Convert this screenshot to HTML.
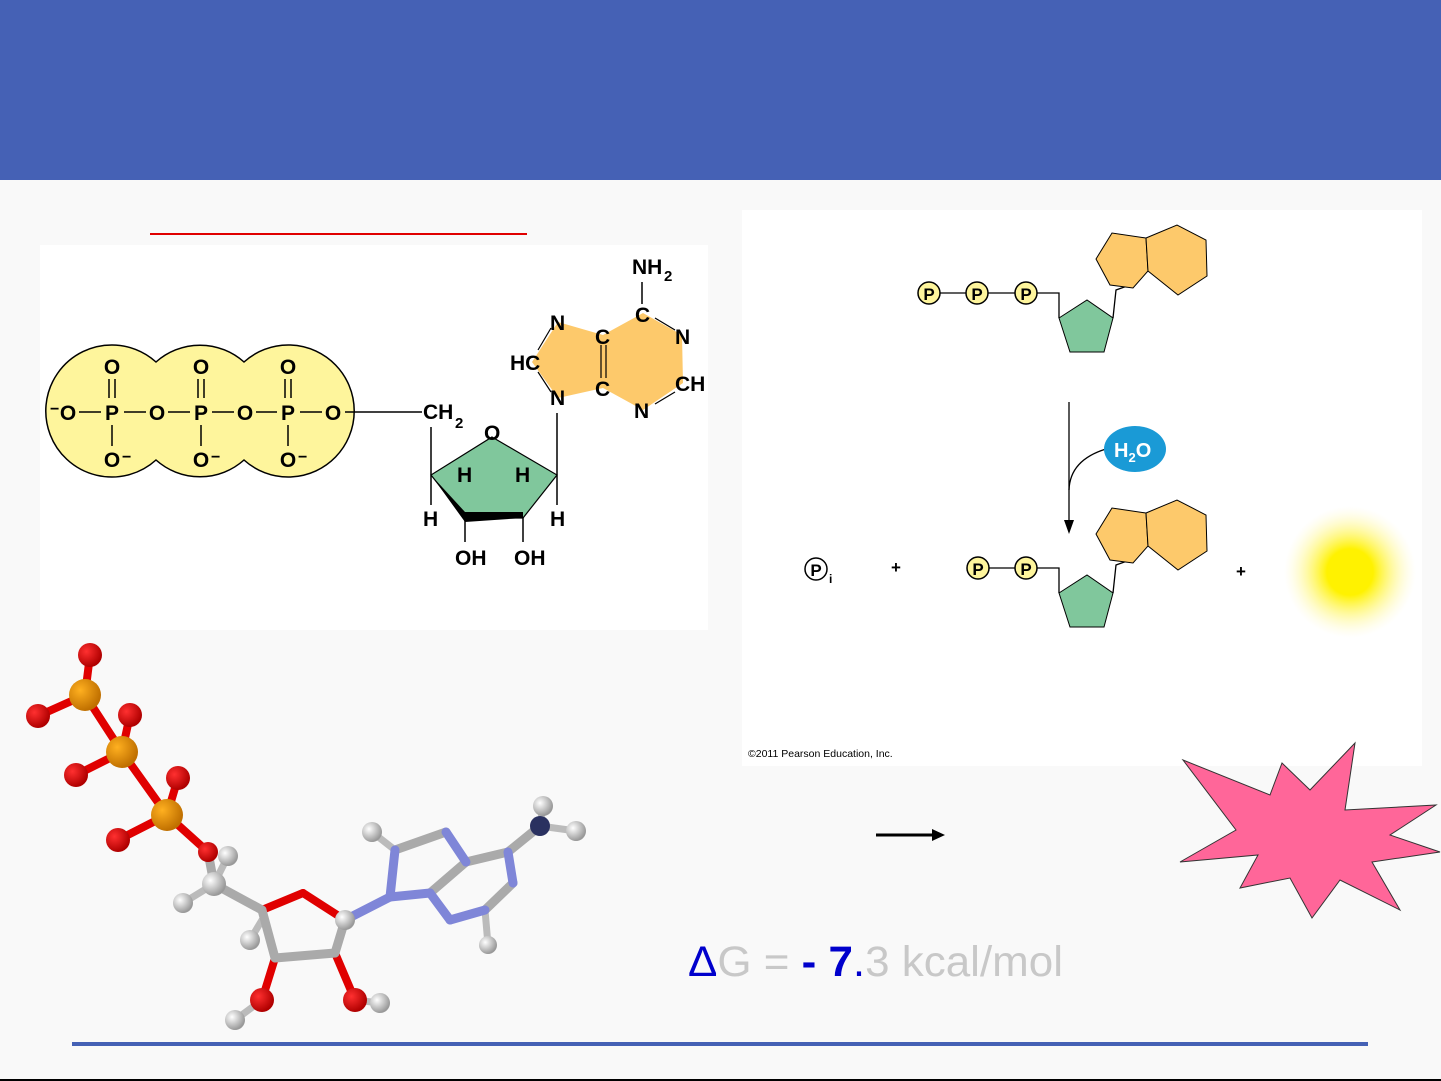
<!DOCTYPE html><html><head><meta charset="utf-8"><style>
html,body{margin:0;padding:0;width:1441px;height:1081px;overflow:hidden;background:#f9f9f9}
svg{display:block}
text{font-family:"Liberation Sans",Arial,sans-serif}
</style></head><body>
<svg width="1441" height="1081" viewBox="0 0 1441 1081" xmlns="http://www.w3.org/2000/svg">
<defs>
<radialGradient id="sun" cx="50%" cy="50%" r="50%"><stop offset="0" stop-color="#fff200"/><stop offset="0.35" stop-color="#fff200"/><stop offset="1" stop-color="#fff8c0" stop-opacity="0"/></radialGradient>
<radialGradient id="gr" cx="35%" cy="35%" r="65%"><stop offset="0" stop-color="#fff"/><stop offset="1" stop-color="#999"/></radialGradient>
<radialGradient id="rd" cx="35%" cy="35%" r="65%"><stop offset="0" stop-color="#ff3030"/><stop offset="1" stop-color="#b00000"/></radialGradient>
<radialGradient id="or" cx="35%" cy="35%" r="65%"><stop offset="0" stop-color="#ffb020"/><stop offset="1" stop-color="#c07000"/></radialGradient>
</defs>
<rect x="0" y="0" width="1441" height="180" fill="#4561b5"/>
<line x1="150" y1="234" x2="527" y2="234" stroke="#e00000" stroke-width="2"/>
<rect x="40" y="245" width="668" height="385" fill="#fff"/>
<rect x="742" y="210" width="680" height="556" fill="#fff"/>
<g fill="#fef59c" stroke="#000" stroke-width="1.5">
<path d="M112,345 A66,66 0 0 1 156,362 A66,66 0 0 1 244,362 A66,66 0 1 1 244,460 A66,66 0 0 1 156,460 A66,66 0 1 1 112,345 Z"/>
</g>
<g font-size="21" font-weight="bold" text-anchor="middle">
<text x="112" y="374">O</text><text x="201" y="374">O</text><text x="288" y="374">O</text>
<text x="68" y="420">O</text><text x="112" y="420">P</text><text x="157" y="420">O</text><text x="201" y="420">P</text><text x="245" y="420">O</text><text x="288" y="420">P</text><text x="333" y="420">O</text>
<text x="112" y="467">O</text><text x="201" y="467">O</text><text x="288" y="467">O</text>
</g>
<g font-size="16" font-weight="bold"><text x="50" y="414">−</text><text x="122" y="462">−</text><text x="211" y="462">−</text><text x="298" y="462">−</text></g>
<g stroke="#000" stroke-width="1.5">
<line x1="109" y1="379" x2="109" y2="398"/><line x1="115" y1="379" x2="115" y2="398"/>
<line x1="198" y1="379" x2="198" y2="398"/><line x1="204" y1="379" x2="204" y2="398"/>
<line x1="285" y1="379" x2="285" y2="398"/><line x1="291" y1="379" x2="291" y2="398"/>
<line x1="112" y1="425" x2="112" y2="446"/><line x1="201" y1="425" x2="201" y2="446"/><line x1="288" y1="425" x2="288" y2="446"/>
<line x1="79" y1="412" x2="101" y2="412"/><line x1="124" y1="412" x2="146" y2="412"/><line x1="168" y1="412" x2="190" y2="412"/><line x1="212" y1="412" x2="234" y2="412"/><line x1="256" y1="412" x2="277" y2="412"/><line x1="300" y1="412" x2="322" y2="412"/>
<line x1="345" y1="412" x2="422" y2="412"/>
<line x1="431" y1="427" x2="431" y2="505"/>
<line x1="557" y1="413" x2="557" y2="505"/>
<line x1="465" y1="518" x2="465" y2="542"/><line x1="523" y1="518" x2="523" y2="542"/>
<line x1="465" y1="488" x2="465" y2="518"/><line x1="523" y1="488" x2="523" y2="518"/>
<line x1="642" y1="282" x2="642" y2="304"/>
</g>
<polygon points="492,437 557,475 523,518 465,518 431,475" fill="#80c79c" stroke="#000" stroke-width="1.2"/>
<polygon points="431,475 465,512 523,512 523,518 465,522" fill="#000"/>
<polygon points="558,322 603,335 643,313 682,335 683,383 643,410 603,388 558,398 532,362" fill="#fdc96b"/>
<g stroke="#000" stroke-width="1.2" fill="none">
<line x1="601" y1="345" x2="601" y2="378"/><line x1="606" y1="345" x2="606" y2="378"/>
<line x1="655" y1="318" x2="675" y2="330"/><line x1="655" y1="404" x2="675" y2="392"/>
<line x1="538" y1="350" x2="551" y2="328"/><line x1="538" y1="372" x2="551" y2="392"/>
</g>
<g font-size="21" font-weight="bold">
<text x="423" y="419">CH</text><text x="455" y="428" font-size="15">2</text>
<text x="484" y="440">O</text>
<text x="457" y="482">H</text><text x="515" y="482">H</text>
<text x="423" y="526">H</text><text x="550" y="526">H</text>
<text x="455" y="565">OH</text><text x="514" y="565">OH</text>
<text x="550" y="330">N</text><text x="510" y="370">HC</text><text x="550" y="405">N</text>
<text x="595" y="344">C</text><text x="595" y="396">C</text><text x="635" y="322">C</text>
<text x="675" y="344">N</text><text x="675" y="391">CH</text><text x="634" y="418">N</text>
<text x="632" y="274">NH</text><text x="664" y="281" font-size="15">2</text>
</g>
<g stroke-linecap="round">
<g stroke="#e00000" stroke-width="8">
<line x1="90" y1="655" x2="85" y2="695"/><line x1="85" y1="695" x2="38" y2="716"/><line x1="85" y1="695" x2="122" y2="752"/>
<line x1="122" y1="752" x2="130" y2="715"/><line x1="122" y1="752" x2="76" y2="775"/><line x1="122" y1="752" x2="167" y2="815"/>
<line x1="167" y1="815" x2="178" y2="778"/><line x1="167" y1="815" x2="118" y2="840"/><line x1="167" y1="815" x2="208" y2="852"/>
<line x1="262" y1="910" x2="303" y2="893"/><line x1="303" y1="893" x2="345" y2="920"/>
<line x1="275" y1="958" x2="262" y2="1000"/><line x1="335" y1="953" x2="355" y2="1000"/>
</g>
<g stroke="#bbb" stroke-width="7">
<line x1="214" y1="884" x2="228" y2="856"/><line x1="214" y1="884" x2="183" y2="903"/><line x1="262" y1="920" x2="250" y2="940"/>
<line x1="262" y1="1000" x2="235" y2="1020"/><line x1="355" y1="1000" x2="380" y2="1003"/>
<line x1="395" y1="850" x2="372" y2="832"/><line x1="485" y1="910" x2="488" y2="945"/><line x1="540" y1="826" x2="543" y2="806"/><line x1="540" y1="826" x2="576" y2="831"/>
</g>
<g stroke="#aaa" stroke-width="9">
<line x1="214" y1="884" x2="262" y2="910"/><line x1="262" y1="910" x2="275" y2="958"/><line x1="275" y1="958" x2="335" y2="953"/><line x1="335" y1="953" x2="345" y2="920"/>
<line x1="214" y1="884" x2="208" y2="852"/>
<line x1="395" y1="850" x2="446" y2="832"/><line x1="466" y1="862" x2="508" y2="852"/><line x1="513" y1="883" x2="485" y2="910"/><line x1="430" y1="893" x2="466" y2="862"/><line x1="508" y1="852" x2="540" y2="826"/>
</g>
<g stroke="#7f86d8" stroke-width="9">
<line x1="345" y1="920" x2="390" y2="897"/><line x1="390" y1="897" x2="395" y2="850"/><line x1="446" y1="832" x2="466" y2="862"/><line x1="390" y1="897" x2="430" y2="893"/><line x1="430" y1="893" x2="450" y2="920"/><line x1="450" y1="920" x2="485" y2="910"/><line x1="508" y1="852" x2="513" y2="883"/>
</g>
</g>
<g fill="url(#rd)"><circle cx="90" cy="655" r="12"/><circle cx="38" cy="716" r="12"/><circle cx="130" cy="715" r="12"/><circle cx="76" cy="775" r="12"/><circle cx="178" cy="778" r="12"/><circle cx="118" cy="840" r="12"/><circle cx="208" cy="852" r="10"/><circle cx="262" cy="1000" r="12"/><circle cx="355" cy="1000" r="12"/></g>
<g fill="url(#or)"><circle cx="85" cy="695" r="16"/><circle cx="122" cy="752" r="16"/><circle cx="167" cy="815" r="16"/></g>
<circle cx="214" cy="884" r="12" fill="url(#gr)"/>
<circle cx="540" cy="826" r="10" fill="#2a3160"/>
<g fill="url(#gr)"><circle cx="228" cy="856" r="10"/><circle cx="183" cy="903" r="10"/><circle cx="250" cy="940" r="10"/><circle cx="345" cy="920" r="10"/><circle cx="235" cy="1020" r="10"/><circle cx="380" cy="1003" r="10"/><circle cx="372" cy="832" r="10"/><circle cx="488" cy="945" r="9"/><circle cx="543" cy="806" r="10"/><circle cx="576" cy="831" r="10"/></g>
<g stroke="#000" stroke-width="1.3" fill="none">
<line x1="940" y1="293" x2="966" y2="293"/><line x1="988" y1="293" x2="1015" y2="293"/>
<polyline points="1037,293 1059,293 1059,318"/><polyline points="1113,318 1116,290 1130,285"/>
<line x1="989" y1="568" x2="1015" y2="568"/>
<polyline points="1037,568 1059,568 1059,593"/><polyline points="1113,593 1116,565 1130,560"/>
<line x1="1069" y1="402" x2="1069" y2="522"/>
<path d="M1069,490 Q1070,460 1106,449"/>
</g>
<path d="M1064,520 L1069,534 L1074,520 Z" fill="#000"/>
<g fill="#fdc96b" stroke="#000" stroke-width="1"><polygon points="1096,259 1112,233 1146,238 1148,271 1133,288 1110,285"/><polygon points="1146,238 1177,225 1206,240 1207,276 1178,295 1148,271"/>
<polygon points="1096,534 1112,508 1146,513 1148,546 1133,563 1110,560"/><polygon points="1146,513 1177,500 1206,515 1207,551 1178,570 1148,546"/></g>
<g fill="#80c79c" stroke="#000" stroke-width="1"><polygon points="1059,318 1087,300 1113,318 1104,352 1070,352"/><polygon points="1059,593 1087,575 1113,593 1104,627 1070,627"/></g>
<g fill="#fef59c" stroke="#000" stroke-width="1.5"><circle cx="929" cy="293" r="11"/><circle cx="977" cy="293" r="11"/><circle cx="1026" cy="293" r="11"/><circle cx="978" cy="568" r="11"/><circle cx="1026" cy="568" r="11"/></g>
<circle cx="816" cy="569" r="11" fill="#fff" stroke="#000" stroke-width="1.5"/>
<g font-size="17" font-weight="bold" text-anchor="middle"><text x="929" y="300">P</text><text x="977" y="300">P</text><text x="1026" y="300">P</text><text x="978" y="575">P</text><text x="1026" y="575">P</text><text x="816" y="576">P</text><text x="896" y="573">+</text><text x="1241" y="577">+</text></g>
<text x="829" y="583" font-size="12" font-weight="bold">i</text>
<ellipse cx="1135" cy="449" rx="31" ry="23" fill="#1a9ad6"/>
<text x="1114" y="457" font-size="20" font-weight="bold" fill="#fff">H<tspan font-size="13" dy="5">2</tspan><tspan dy="-5">O</tspan></text>
<circle cx="1350" cy="572" r="66" fill="url(#sun)"/>
<text x="748" y="757" font-size="10.5">©2011 Pearson Education, Inc.</text>
<line x1="876" y1="835" x2="934" y2="835" stroke="#000" stroke-width="3"/><polygon points="932,829 945,835 932,841" fill="#000"/>
<polygon points="1183,760 1270,795 1282,763 1310,790 1355,743 1345,810 1436,805 1390,835 1440,852 1372,862 1400,910 1340,880 1312,918 1290,878 1240,888 1258,855 1180,862 1236,830" fill="#ff6699" stroke="#333" stroke-width="1"/>
<text x="688" y="976" font-size="43" fill="#c8c8c8" textLength="375" lengthAdjust="spacingAndGlyphs"><tspan fill="#0000cc">Δ</tspan>G = <tspan fill="#0000cc" font-weight="bold">- 7</tspan><tspan fill="#0000cc">.</tspan>3 kcal/mol</text>
<rect x="72" y="1042" width="1296" height="4" fill="#4561b5"/>
<rect x="0" y="1079" width="1441" height="2" fill="#000"/>
</svg>
</body></html>
